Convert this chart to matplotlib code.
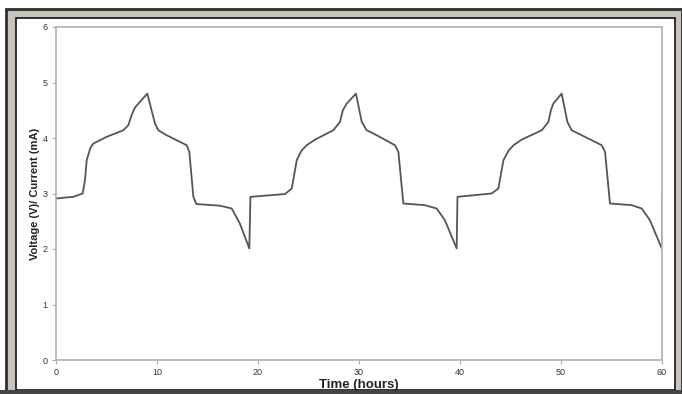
import matplotlib
matplotlib.use('Agg')
import matplotlib.pyplot as plt
from matplotlib.patches import Rectangle

plt.rcParams['font.family'] = ['Liberation Sans', 'DejaVu Sans']

# voltage trace, one list per cycle
time_c1 = [0.0, 1.7, 2.64, 2.87, 3.04, 3.4, 3.7, 5.0, 6.67, 7.16, 7.5, 7.82, 9.04,
           9.8, 10.13, 10.95, 12.94, 13.2, 13.6, 13.9, 16.24, 17.4, 18.2, 19.14]
volt_c1 = [2.91, 2.94, 3.0, 3.24, 3.6, 3.82, 3.9, 4.02, 4.14, 4.23, 4.42, 4.55, 4.8,
           4.26, 4.14, 4.05, 3.87, 3.75, 2.94, 2.81, 2.78, 2.73, 2.46, 2.01]

time_c2 = [19.25, 22.67, 23.34, 23.84, 24.3, 24.82, 25.64, 27.46, 28.12, 28.4, 28.78, 29.7,
           30.27, 30.76, 31.75, 33.56, 33.9, 34.39, 36.5, 37.69, 38.5, 39.67]
volt_c2 = [2.94, 2.99, 3.09, 3.6, 3.77, 3.87, 3.97, 4.14, 4.29, 4.5, 4.62, 4.8,
           4.29, 4.14, 4.05, 3.87, 3.75, 2.82, 2.79, 2.73, 2.52, 2.01]

time_c3 = [39.75, 43.13, 43.8, 44.3, 44.8, 45.3, 46.1, 48.1, 48.75, 49.0, 49.24, 50.07,
           50.63, 51.06, 52.05, 54.03, 54.36, 54.85, 57.0, 57.99, 58.8, 60.0, 60.0]
volt_c3 = [2.94, 3.0, 3.09, 3.6, 3.77, 3.87, 3.97, 4.14, 4.29, 4.5, 4.62, 4.8,
           4.29, 4.14, 4.05, 3.87, 3.75, 2.82, 2.79, 2.73, 2.52, 2.0, 2.95]

time = time_c1 + time_c2 + time_c3
volt = volt_c1 + volt_c2 + volt_c3

x_ticks = [0, 10, 20, 30, 40, 50, 60]
y_ticks = [0, 1, 2, 3, 4, 5, 6]

W, H = 682, 394
fig = plt.figure(figsize=(W / 100, H / 100), dpi=100)
fig.patch.set_facecolor('white')

# outer grey frame and inner white panel (behind the axes)
fig.add_artist(Rectangle((6 / W, 0), 676 / W, (H - 9) / H, transform=fig.transFigure,
                         facecolor='#c9c3be', edgecolor='#2e2e2e', linewidth=2.0, zorder=-3))
fig.add_artist(Rectangle((16 / W, 4 / H), 659 / W, (H - 18 - 4) / H, transform=fig.transFigure,
                         facecolor='white', edgecolor='#111111', linewidth=1.2, zorder=-2))
fig.add_artist(Rectangle((0, 0), 1, 4 / H, transform=fig.transFigure,
                         facecolor='#444444', edgecolor='none', zorder=-1))

ax = fig.add_axes([56 / W, 34 / H, 606 / W, 333 / H])
ax.patch.set_alpha(0)

ax.plot(time, volt, color='#555555', linewidth=1.3)

ax.set_xlim(0, 60)
ax.set_ylim(0, 6)
ax.set_xticks(x_ticks)
ax.set_yticks(y_ticks)
ax.tick_params(axis='both', labelsize=6.5, colors='#aaaaaa', labelcolor='#333333',
               length=3, width=0.8, pad=3)

for s in ax.spines.values():
    s.set_color('#b5b5b5')
    s.set_linewidth(1.3)

ax.set_xlabel('Time (hours)', fontsize=9.5, fontweight='bold', color='#222222', labelpad=1)
ax.set_ylabel('Voltage (V)/ Current (mA)', fontsize=8, fontweight='bold', color='#222222', labelpad=2)

fig.savefig('out.png', dpi=100)
